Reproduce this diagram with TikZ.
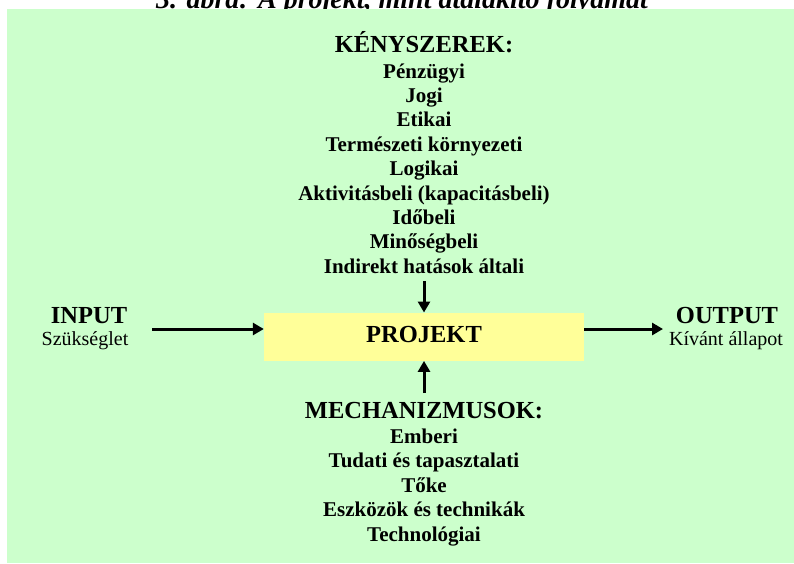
\documentclass[tikz,border=0pt]{standalone}
\usepackage{fontspec}
\setmainfont{Liberation Serif}
\usetikzlibrary{arrows.meta}
\definecolor{bggreen}{HTML}{CCFFCC}
\definecolor{boxyellow}{HTML}{FFFF99}
\tikzset{
  item/.style={anchor=base,inner sep=0pt,font=\fontsize{21}{24}\selectfont\bfseries},
  head/.style={anchor=base,inner sep=0pt,font=\fontsize{24.5}{28}\selectfont\bfseries},
  sub/.style={anchor=base,inner sep=0pt,font=\fontsize{20}{24}\selectfont},
  flow/.style={line width=3pt,-{Triangle[length=11pt,width=12pt]}},
}
\begin{document}
\begin{tikzpicture}[x=1pt,y=-1pt]
\useasboundingbox (0,0) rectangle (794,563);
\begin{scope}
\clip (0,0) rectangle (794,563);
\node[anchor=base,inner sep=0pt,font=\fontsize{28}{32}\selectfont\bfseries\itshape] (title) at (402,8) {3. ábra: A projekt, mint átalakító folyamat};
\end{scope}
\fill[bggreen] (7,9.3) rectangle (794,563);

% constraints
\node[head] (ksz) at (424,52) {KÉNYSZEREK:};
\node[item] (k1) at (424,78) {Pénzügyi};
\node[item] (k2) at (424,102.4) {Jogi};
\node[item] (k3) at (424,126.8) {Etikai};
\node[item] (k4) at (424,151.2) {Természeti környezeti};
\node[item] (k5) at (424,175.6) {Logikai};
\node[item] (k6) at (424,200) {Aktivitásbeli (kapacitásbeli)};
\node[item] (k7) at (424,224.4) {Időbeli};
\node[item] (k8) at (424,248.8) {Minőségbeli};
\node[item] (k9) at (424,273.2) {Indirekt hatások általi};

% project box
\node[fill=boxyellow,minimum width=320pt,minimum height=48pt,inner sep=0pt,
      text height=12pt,text depth=0pt,font=\fontsize{24.5}{28}\selectfont\bfseries]
      (proj) at (424,336.7) {PROJEKT};

% input / output
\node[head] (in) at (89,323) {INPUT};
\node[sub] (ins) at (85,345) {Szükséglet};
\node[head] (out) at (727,323) {OUTPUT};
\node[sub] (outs) at (726,345) {Kívánt állapot};

% mechanisms
\node[head] (mech) at (424,418) {MECHANIZMUSOK:};
\node[item] (m1) at (424,443.5) {Emberi};
\node[item] (m2) at (424,467.9) {Tudati és tapasztalati};
\node[item] (m3) at (424,492.3) {Tőke};
\node[item] (m4) at (424,516.7) {Eszközök és technikák};
\node[item] (m5) at (424,541.1) {Technológiai};

% arrows
\coordinate (topstart) at (424,281);
\coordinate (botstart) at (424,393);
\coordinate (instart) at (152,329);
\coordinate (outend) at (663,329);
\draw[flow] (topstart) -- (proj.north);
\draw[flow] (botstart) -- (proj.south);
\draw[flow] (instart) -- (instart -| proj.west);
\draw[flow] (outend -| proj.east) -- (outend);
\end{tikzpicture}
\end{document}
